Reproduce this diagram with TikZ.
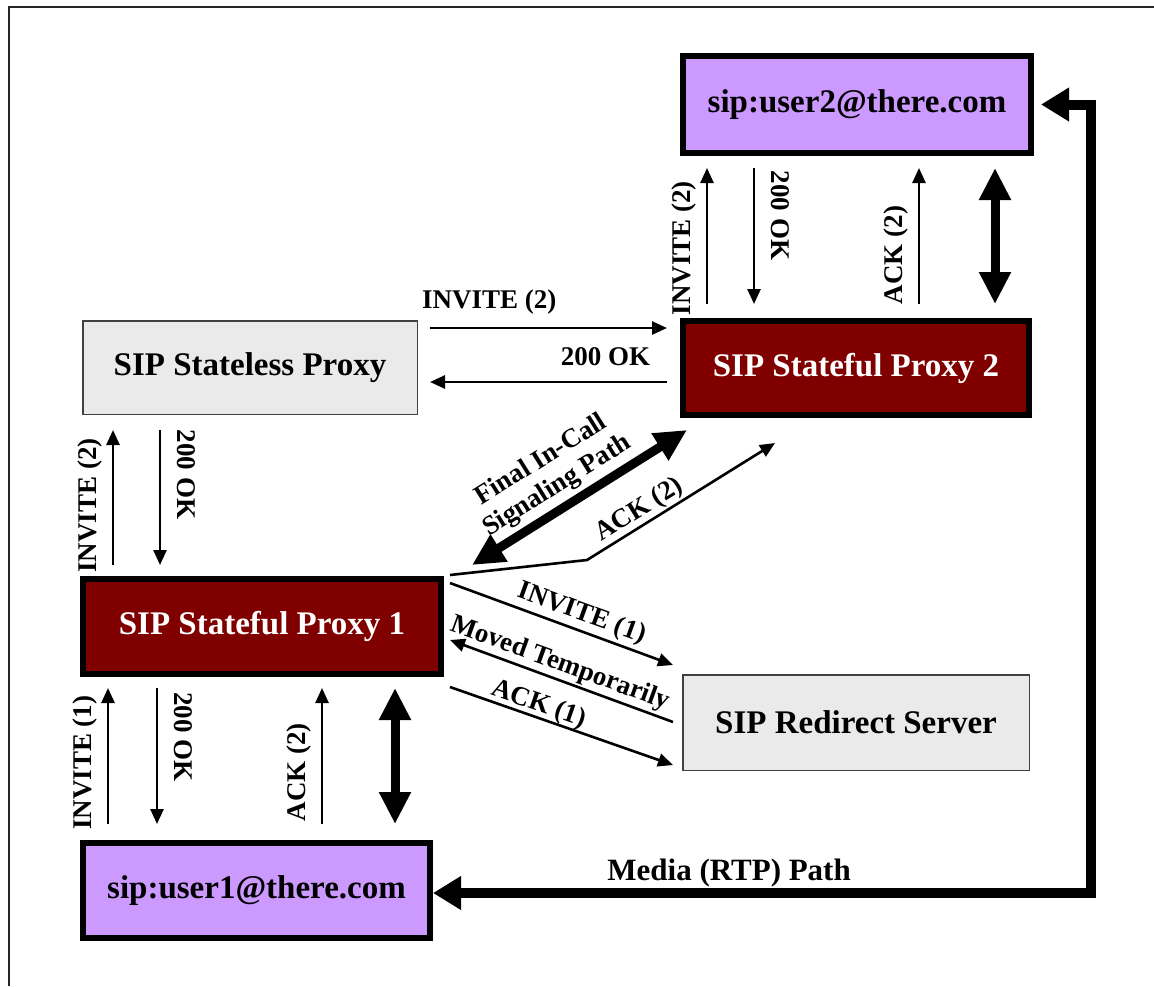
\documentclass[tikz,border=0pt]{standalone}
\usepackage{fontspec}
\setmainfont{Liberation Serif}
\usetikzlibrary{calc}
\usetikzlibrary{arrows.meta}

\definecolor{lilac}{RGB}{204,153,255}
\definecolor{proxyred}{RGB}{128,0,0}
\definecolor{servergray}{RGB}{234,234,234}

\newcommand{\boxfont}{\fontsize{33}{38}\selectfont\bfseries}
\newcommand{\lblfont}{\fontsize{27}{30}\selectfont\bfseries}

\begin{document}
\begin{tikzpicture}[x=1pt,y=1pt,yscale=-1,xscale=1,
  userbox/.style={draw=black,line width=6,fill=lilac,inner sep=0,font=\boxfont},
  proxybox/.style={draw=black,line width=6,fill=proxyred,text=white,inner sep=0,font=\boxfont},
  plainbox/.style={draw=black!75,line width=1.5,fill=servergray,inner sep=0,font=\boxfont},
  msg/.style={line width=2.6,-{Triangle[length=15pt,width=13pt]}},
  bigmsg/.style={line width=9,{Triangle[length=32pt,width=30pt]}-{Triangle[length=32pt,width=30pt]}},
  media/.style={line width=10,line join=miter,{Triangle[length=28pt,width=32pt]}-{Triangle[length=28pt,width=32pt]}},
  lbl/.style={font=\lblfont,text depth=0pt,inner sep=0,outer sep=17pt,anchor=south},
  uplbl/.style={lbl,rotate=90},
  downlbl/.style={lbl,rotate=-90}]
\useasboundingbox (0,0) rectangle (1154,986);

% frame
\draw [line width=2,black!85] (9,986) -- (9,7) -- (1154,7);

%Shape: boxes
\node [userbox,minimum width=348,minimum height=97] (u2) at (857,104.5) {sip:user2@there.com};
\node [proxybox,minimum width=346,minimum height=94] (sp2) at (856,368) {SIP Stateful Proxy 2};
\node [plainbox,minimum width=334.5,minimum height=93.5] (sl) at (250,367.5) {SIP Stateless Proxy};
\node [proxybox,minimum width=358,minimum height=95] (sp1) at (262,626.5) {SIP Stateful Proxy 1};
\node [plainbox,minimum width=346.5,minimum height=95.5] (rs) at (856,722.5) {SIP Redirect Server};
\node [userbox,minimum width=347,minimum height=95] (u1) at (256.5,890.5) {sip:user1@there.com};

% Connection: user2 <-> proxy 2
\draw [msg] ($(sp2.north west)+(27,-14)$) -- node [uplbl,pos=.41] (l1) {INVITE (2)} ($(u2.south west)+(27,12)$);
\draw [msg] ($(u2.south west)+(74,12)$) -- node [downlbl,pos=.35] (l2) {200 OK} ($(sp2.north west)+(74,-14)$);
\draw [msg] ($(sp2.north west)+(239,-14)$) -- node [uplbl,pos=.36] (l3) {ACK (2)} ($(u2.south west)+(239,12)$);
\draw [bigmsg] ($(u2.south west)+(315,12)$) -- ($(sp2.north west)+(315,-14)$);

% Connection: stateless proxy <-> proxy 2
\draw [msg] ($(sl.north east)+(12,8)$) -- node [lbl,pos=.25,outer sep=20pt] (l4) {INVITE (2)} ($(sp2.north west)+(-13,10)$);
\draw [msg] ($(sp2.north west)+(-13,64)$) -- node [lbl,pos=.26] (l5) {200 OK} ($(sl.north east)+(12,62)$);

% Connection: proxy 1 <-> stateless proxy
\draw [msg] ($(sp1.north west)+(33,-11)$) -- node [uplbl,pos=.44] (l6) {INVITE (2)} ($(sl.south west)+(31,15)$);
\draw [msg] ($(sl.south west)+(78,15)$) -- node [downlbl,pos=.33] (l7) {200 OK} ($(sp1.north west)+(80,-11)$);

% Connection: proxy 1 <-> proxy 2
\draw [bigmsg] ($(sp1.north east)+(28,-11)$) -- node [lbl,rotate=32,align=center,pos=.45,outer sep=15pt] (l8) {Final In-Call\\Signaling Path} ($(sp2.south west)+(7,12)$);
\coordinate (ackbend) at ($(sp1.north east)+(143,-16)$);
\draw [msg] ($(sp1.north east)+(6,-1)$) -- (ackbend) -- node [lbl,rotate=32,pos=.32,outer sep=8pt] (l9) {ACK (2)} ($(sp2.south west)+(95,25)$);

% Connection: proxy 1 <-> redirect server
\draw [msg] ($(sp1.north east)+(6,7)$) -- node [lbl,rotate=-20,pos=.565,outer sep=10pt] (l10) {INVITE (1)} ($(rs.north west)+(-9,-9)$);
\draw [msg] ($(rs.west)+(-9,-0.5)$) -- node [lbl,rotate=-20,pos=.53,outer sep=9pt] (l11) {Moved Temporarily} ($(sp1.east)+(6,13.5)$);
\draw [msg] ($(sp1.south east)+(6,10)$) -- node [lbl,rotate=-19,pos=.38,outer sep=6pt] (l12) {ACK (1)} ($(rs.south west)+(-9,-6)$);

% Connection: user1 <-> proxy 1
\draw [msg] ($(u1.north west)+(28,-16)$) -- node [uplbl,pos=.45] (l13) {INVITE (1)} ($(sp1.south west)+(28,11)$);
\draw [msg] ($(sp1.south west)+(77,11)$) -- node [downlbl,pos=.36] (l14) {200 OK} ($(u1.north west)+(77,-16)$);
\draw [msg] ($(u1.north west)+(242,-16)$) -- node [uplbl,pos=.38] (l15) {ACK (2)} ($(sp1.south west)+(242,11)$);
\draw [bigmsg] ($(sp1.south west)+(315,11)$) -- ($(u1.north west)+(315,-16)$);

% Connection: media path
\coordinate (mbend) at (1091,893);
\draw [media] ($(u2.east)+(7,0)$) -- (u2.east -| mbend) -- (mbend) -- node [lbl,font=\fontsize{31}{36}\selectfont\bfseries,pos=.55,outer sep=13pt] (l16) {Media (RTP) Path} (u1.east |- mbend);

\end{tikzpicture}
\end{document}
